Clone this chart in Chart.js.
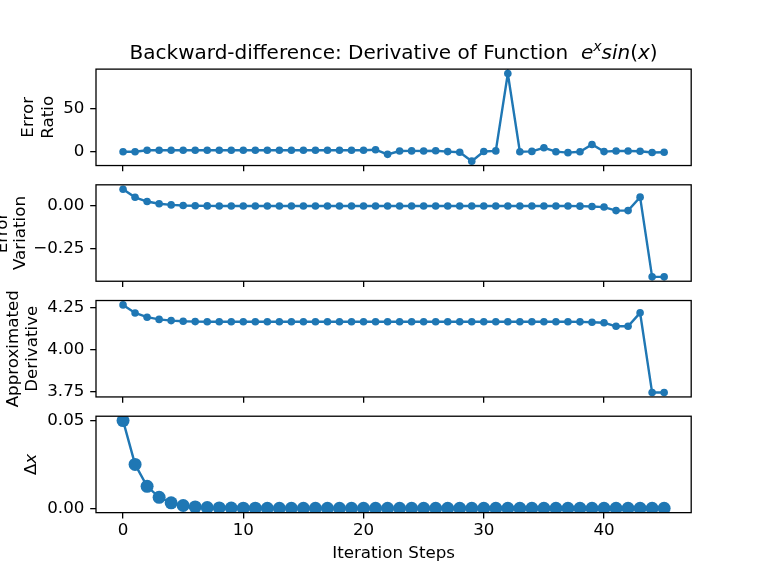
<!DOCTYPE html>
<html>
<head>
<meta charset="utf-8">
<script src="https://cdn.jsdelivr.net/npm/chart.js@4.4.1/dist/chart.umd.min.js"></script>
<style>
html, body { margin: 0; padding: 0; background: #fff; }
#wrap { position: relative; width: 768px; height: 576px; overflow: hidden; background: #fff; }
canvas { position: absolute; left: 0; top: 0; }
</style>
</head>
<body>
<div id="wrap">
  <canvas id="c1" width="768" height="576"></canvas>
  <canvas id="c2" width="768" height="576"></canvas>
  <canvas id="c3" width="768" height="576"></canvas>
  <canvas id="c4" width="768" height="576"></canvas>
</div>
<script>
// ---------------- DATA ----------------
const steps = [0,1,2,3,4,5,6,7,8,9,10,11,12,13,14,15,16,17,18,19,20,21,22,23,24,25,26,27,28,29,30,31,32,33,34,35,36,37,38,39,40,41,42,43,44,45];

const errorRatio = [0.2, 0.3, 1.9, 2.0, 2.0, 2.0, 2.0, 2.0, 2.0, 2.0,
                    2.0, 2.0, 2.0, 2.0, 2.0, 2.0, 2.0, 2.0, 2.0, 2.0,
                    2.0, 2.6, -2.8, 1.0, 1.2, 1.1, 1.3, 0.4, -0.3, -10.6,
                    0.5, 1.2, 90.2, 0.3, 0.6, 4.8, 0.3, -0.8, 0.2, 8.6,
                    0.4, 1.0, 1.0, 0.8, -0.6, -0.4];

const errorVariation = [0.100, 0.052, 0.027, 0.014, 0.007, 0.003, 0.0015, 0.0008, 0.0004, 0.0002,
                        0.0001, 0, 0, 0, 0, 0, 0, 0, 0, 0,
                        0, 0, 0, 0, 0, 0, 0, 0, 0, 0,
                        0, 0, 0, 0, 0, 0, 0, 0, -0.0005, -0.003,
                        -0.006, -0.027, -0.027, 0.053, -0.420, -0.420];

const approxDerivative = [4.267, 4.219, 4.194, 4.181, 4.174, 4.170, 4.168, 4.1675, 4.167, 4.167,
                          4.167, 4.167, 4.167, 4.167, 4.167, 4.167, 4.167, 4.167, 4.167, 4.167,
                          4.167, 4.167, 4.167, 4.167, 4.167, 4.167, 4.167, 4.167, 4.167, 4.167,
                          4.167, 4.167, 4.167, 4.167, 4.167, 4.167, 4.167, 4.167, 4.1665, 4.164,
                          4.161, 4.140, 4.140, 4.220, 3.747, 3.747];

const deltaX = [0.05, 0.025, 0.0125, 0.00625, 0.003125, 0.0015625, 0.00078, 0.00039, 0.0002, 0.0001,
                0.00005, 0.000024, 0.000012, 0.000006, 0.000003, 0.0000015, 0.0000008, 0.0000004, 0.0000002, 0.0000001,
                0, 0, 0, 0, 0, 0, 0, 0, 0, 0,
                0, 0, 0, 0, 0, 0, 0, 0, 0, 0,
                0, 0, 0, 0, 0, 0];

const xTicks = [0, 10, 20, 30, 40];
const yTicksRatio = [0, 50];
const yTicksVariation = [-0.25, 0];
const yTicksDerivative = [3.75, 4.00, 4.25];
const yTicksDeltaX = [0, 0.05];

const titleMain = 'Backward-difference: Derivative of Function  ';
const xLabel = 'Iteration Steps';

// ---------------- LAYOUT ----------------
const FIG_W = 768, FIG_H = 576;
const AX_L = 0.125 * FIG_W, AX_R = 0.9 * FIG_W;
const AX_T = (1 - 0.88) * FIG_H, AX_B = (1 - 0.11) * FIG_H;
const PANEL_H = (AX_B - AX_T) / (4 + 3 * 0.2);
const GAP = 0.2 * PANEL_H;
const FONT = '"DejaVu Sans", "Liberation Sans", sans-serif';
const FS = 16.7;
const BLUE = '#1f77b4';
const TICK_LEN = 5.8;

function panelTop(i) { return AX_T + i * (PANEL_H + GAP); }
function limits(vals) {
  const mn = Math.min(...vals), mx = Math.max(...vals);
  const m = (mx - mn) * 0.05;
  return [mn - m, mx + m];
}
function minusFmt(s) { return s.replace('-', '\u2212'); }

const framePlugin = {
  id: 'frame',
  afterDraw(chart) {
    const a = chart.chartArea, ctx = chart.ctx;
    ctx.save();
    ctx.strokeStyle = '#000';
    ctx.lineWidth = 1.3;
    ctx.strokeRect(a.left, a.top, a.right - a.left, a.bottom - a.top);
    const o = chart.options.plugins.ylab;
    if (o) {
      const cy = (a.top + a.bottom) / 2;
      ctx.fillStyle = '#000';
      ctx.textBaseline = 'alphabetic';
      o.lines.forEach(l => {
        ctx.save();
        ctx.translate(l.x, cy);
        ctx.rotate(-Math.PI / 2);
        // parts allow mixed styles (e.g. Δ upright + x italic)
        const parts = l.parts || [{ t: l.text, italic: false }];
        let total = 0;
        parts.forEach(p => { ctx.font = (p.italic ? 'italic ' : '') + FS + 'px ' + FONT; p.w = ctx.measureText(p.t).width; total += p.w; });
        let x = -total / 2;
        ctx.textAlign = 'left';
        parts.forEach(p => { ctx.font = (p.italic ? 'italic ' : '') + FS + 'px ' + FONT; ctx.fillText(p.t, x, 0); x += p.w; });
        ctx.restore();
      });
    }
    ctx.restore();
  }
};

const titlePlugin = {
  id: 'mtitle',
  afterDraw(chart) {
    const ctx = chart.ctx;
    const fs = 20, base = AX_T - 10;
    const parts = [
      { t: titleMain, f: fs + 'px ' + FONT, dy: 0 },
      { t: 'e', f: 'italic ' + fs + 'px ' + FONT, dy: 0 },
      { t: 'x', f: 'italic ' + (fs * 0.7) + 'px ' + FONT, dy: -fs * 0.42 },
      { t: 'sin', f: 'italic ' + fs + 'px ' + FONT, dy: 0 },
      { t: '(', f: fs + 'px ' + FONT, dy: 0 },
      { t: 'x', f: 'italic ' + fs + 'px ' + FONT, dy: 0 },
      { t: ')', f: fs + 'px ' + FONT, dy: 0 }
    ];
    ctx.save();
    let total = 0;
    parts.forEach(p => { ctx.font = p.f; p.w = ctx.measureText(p.t).width; total += p.w; });
    let x = (AX_L + AX_R) / 2 - total / 2;
    ctx.fillStyle = '#000';
    ctx.textBaseline = 'alphabetic';
    ctx.textAlign = 'left';
    parts.forEach(p => { ctx.font = p.f; ctx.fillText(p.t, x, base + p.dy); x += p.w; });
    ctx.restore();
  }
};

function makeChart(id, idx, values, yTicks, fmt, labLines, radius, isLast) {
  const top = panelTop(idx);
  const bottom = top + PANEL_H;
  const [yMin, yMax] = limits(values);
  const xH = isLast ? FIG_H - bottom : 10;
  const plugins = [framePlugin];
  if (idx === 0) plugins.push(titlePlugin);
  return new Chart(document.getElementById(id), {
    type: 'line',
    data: {
      datasets: [{
        data: steps.map((s, i) => ({ x: s, y: values[i] })),
        borderColor: BLUE,
        backgroundColor: BLUE,
        borderWidth: 2.4,
        pointRadius: radius,
        pointBorderWidth: 0,
        pointHoverRadius: radius,
        tension: 0,
        fill: false
      }]
    },
    options: {
      responsive: false,
      animation: false,
      devicePixelRatio: 1,
      events: [],
      layout: { padding: { top: top, left: 0, right: FIG_W - AX_R, bottom: isLast ? 0 : FIG_H - bottom - xH } },
      plugins: {
        legend: { display: false },
        tooltip: { enabled: false },
        title: { display: false },
        ylab: { lines: labLines }
      },
      scales: {
        x: {
          type: 'linear',
          min: -2.25, max: 47.25,
          afterBuildTicks: s => { s.ticks = xTicks.map(v => ({ value: v })); },
          afterFit: s => { s.height = xH; },
          grid: { display: true, drawOnChartArea: false, drawTicks: true, tickLength: TICK_LEN, color: '#000', lineWidth: 1.3 },
          border: { display: false },
          ticks: { display: isLast, color: '#000', font: { family: FONT, size: FS }, padding: 2, maxRotation: 0, autoSkip: false,
                   callback: v => String(v) },
          title: isLast ? { display: true, text: xLabel, color: '#000', font: { family: FONT, size: FS }, padding: { top: 0, bottom: 12.5 } } : { display: false }
        },
        y: {
          type: 'linear',
          min: yMin, max: yMax,
          afterBuildTicks: s => { s.ticks = yTicks.map(v => ({ value: v })); },
          afterFit: s => { s.width = AX_L; },
          grid: { display: true, drawOnChartArea: false, drawTicks: true, tickLength: TICK_LEN, color: '#000', lineWidth: 1.3 },
          border: { display: false },
          ticks: { color: '#000', font: { family: FONT, size: FS }, padding: 5.8, autoSkip: false, callback: v => fmt(v) }
        }
      }
    },
    plugins: plugins
  });
}

makeChart('c1', 0, errorRatio, yTicksRatio, v => minusFmt(v.toFixed(0)),
  [{ text: 'Error', x: 33.3 }, { text: 'Ratio', x: 52.7 }], 3.8, false);
makeChart('c2', 1, errorVariation, yTicksVariation, v => minusFmt(v.toFixed(2)),
  [{ text: 'Error', x: 7 }, { text: 'Variation', x: 25 }], 3.8, false);
makeChart('c3', 2, approxDerivative, yTicksDerivative, v => minusFmt(v.toFixed(2)),
  [{ text: 'Approximated', x: 17.5 }, { text: 'Derivative', x: 37 }], 3.8, false);
makeChart('c4', 3, deltaX, yTicksDeltaX, v => minusFmt(v.toFixed(2)),
  [{ text: '\u0394x', x: 36, parts: [{ t: '\u0394', italic: false }, { t: 'x', italic: true }] }], 6.5, true);
</script>
</body>
</html>
